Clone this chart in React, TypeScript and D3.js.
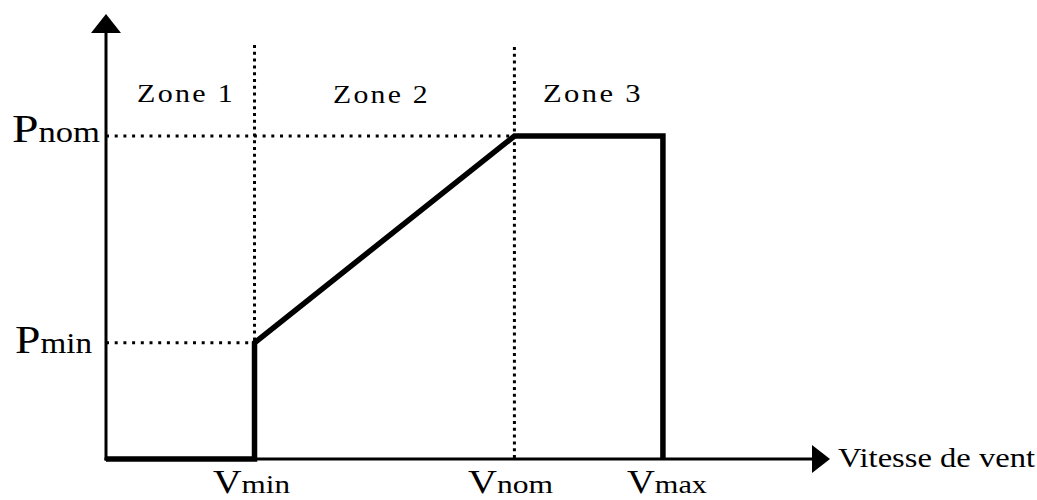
import React from "react";
import * as d3 from "d3";

const W = 1037;
const H = 500;

// Wind speed breakpoints (arbitrary units) and power levels (relative to Pnom)
const speedNames = ["Vmin", "Vnom", "Vmax"];
const speedValues = [4, 11, 15];
const powerNames = ["Pmin", "Pnom"];
const powerValues = [0.36, 1];
const zoneNames = ["Zone 1", "Zone 2", "Zone 3"];
const curveSpeeds = [0, 4, 4, 11, 15, 15];
const curvePowers = [0, 0, 0.36, 1, 1, 0];
const xAxisLabel = "Vitesse de vent";

export default function App() {
  const x = d3.scaleLinear().domain([0, 19.5]).range([106, 830]);
  const y = d3.scaleLinear().domain([0, 1.378]).range([459, 14]);
  const line = d3
    .line<number>()
    .x((_, i) => x(curveSpeeds[i]))
    .y((d) => y(d));
  const font = "Liberation Serif";

  const [vmin, vnom] = speedValues;
  const [pmin, pnom] = powerValues;

  const zoneX = [
    [137, 235],
    [333, 430],
    [543, 643],
  ];
  const zoneBase = [102, 103, 102];

  const pLabels = [
    { x0: 15, x1: 92, base: 353 },
    { x0: 12, x1: 100, base: 142 },
  ];
  const vLabels = [
    { x0: 213, x1: 290 },
    { x0: 468, x1: 553 },
    { x0: 627, x1: 707 },
  ];

  return (
    <svg width={W} height={H} style={{ position: "absolute", left: 0, top: 0, background: "#fff" }}>
      <rect width={W} height={H} fill="#fff" />
      {/* dotted guides */}
      <g stroke="#000" strokeWidth={3} fill="none">
        <line x1={x(0)} x2={x(vnom)} y1={y(pnom)} y2={y(pnom)} strokeDasharray="3,5.7" />
        <line x1={x(0)} x2={x(vmin)} y1={y(pmin)} y2={y(pmin)} strokeDasharray="3,5.7" />
        <line x1={x(vmin)} x2={x(vmin)} y1={45} y2={y(pmin)} strokeDasharray="3,3.8" />
        <line x1={x(vnom)} x2={x(vnom)} y1={47} y2={y(0)} strokeDasharray="3,3.8" />
      </g>
      {/* axes */}
      <g stroke="#000" strokeWidth={3}>
        <line x1={x(0)} x2={x(0)} y1={y(0) + 1.5} y2={y(1.378) + 14} />
        <line x1={x(0) - 1.5} x2={x(19.5) - 12} y1={y(0)} y2={y(0)} />
      </g>
      <path
        d={`M${x(0)},${y(1.378)} L${x(0) + 15},${y(1.378) + 19} L${x(0) - 15},${y(1.378) + 19} Z`}
        fill="#000"
      />
      <path
        d={`M${x(19.5)},${y(0)} L${x(19.5) - 18},${y(0) - 14} L${x(19.5) - 18},${y(0) + 14} Z`}
        fill="#000"
      />
      {/* power curve */}
      <path
        d={line(curvePowers) || ""}
        fill="none"
        stroke="#000"
        strokeWidth={5.5}
        strokeLinejoin="miter"
        strokeLinecap="butt"
      />
      {/* zone labels */}
      {zoneNames.map((z, i) => (
        <text
          key={z}
          x={zoneX[i][0]}
          y={zoneBase[i]}
          fontFamily={font}
          fontSize={26}
          letterSpacing={2}
          textLength={zoneX[i][1] - zoneX[i][0]}
          lengthAdjust="spacingAndGlyphs"
        >
          {z}
        </text>
      ))}
      {/* power labels */}
      {powerNames.map((p, i) => (
        <text
          key={p}
          x={pLabels[i].x0}
          y={pLabels[i].base}
          fontFamily={font}
          textLength={pLabels[i].x1 - pLabels[i].x0}
          lengthAdjust="spacingAndGlyphs"
        >
          <tspan fontSize={40}>{p[0]}</tspan>
          <tspan fontSize={29}>{p.slice(1)}</tspan>
        </text>
      ))}
      {/* speed labels */}
      {speedNames.map((v, i) => (
        <text
          key={v}
          x={vLabels[i].x0}
          y={493}
          fontFamily={font}
          textLength={vLabels[i].x1 - vLabels[i].x0}
          lengthAdjust="spacingAndGlyphs"
        >
          <tspan fontSize={33}>{v[0]}</tspan>
          <tspan fontSize={26}>{v.slice(1)}</tspan>
        </text>
      ))}
      <text
        x={838}
        y={467}
        fontFamily={font}
        fontSize={28}
        textLength={197}
        lengthAdjust="spacingAndGlyphs"
      >
        {xAxisLabel}
      </text>
    </svg>
  );
}
